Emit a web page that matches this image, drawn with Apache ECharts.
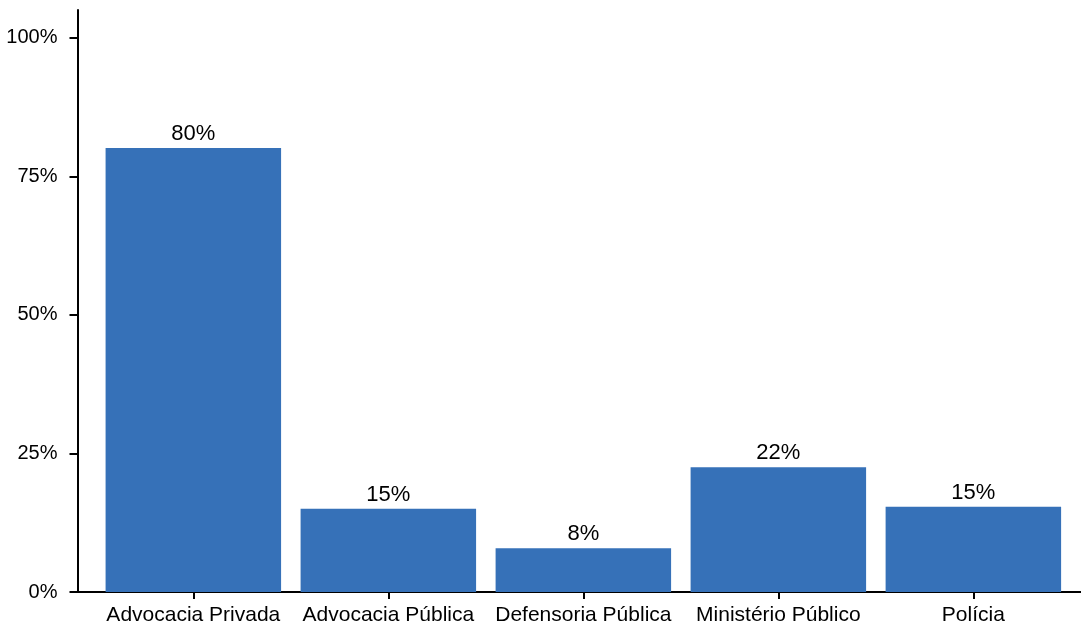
<!DOCTYPE html>
<html>
<head>
<meta charset="utf-8">
<script src="https://cdn.jsdelivr.net/npm/echarts@6/dist/echarts.min.js"></script>
<style>
html,body{margin:0;padding:0;background:#fff;}
#chart{width:1081px;height:629px;}
</style>
</head>
<body>
<div id="chart"></div>
<script>
var categories = ["Advocacia Privada", "Advocacia Pública", "Defensoria Pública", "Ministério Público", "Polícia"];
var values = [80.1, 15.0, 7.9, 22.5, 15.4];
var valueLabels = ["80%", "15%", "8%", "22%", "15%"];
var yTicks = [0, 25, 50, 75, 100];

var FONT = '"Liberation Sans", Arial, Helvetica, sans-serif';
var positions = categories.map(function (c, i) { return i + 1; });
var seriesData = values.map(function (v, i) { return [positions[i], v]; });

var chart = echarts.init(document.getElementById('chart'), null, {renderer: 'canvas'});
chart.setOption({
  animation: false,
  backgroundColor: '#ffffff',
  grid: {left: 77.5, right: 0, top: 10, bottom: 37, containLabel: false},
  xAxis: {
    type: 'value',
    min: 0.406,
    max: 5.552,
    splitLine: {show: false},
    axisLine: {show: true, onZero: false, lineStyle: {color: '#000', width: 2}},
    axisTick: {show: true, length: 7, customValues: positions, lineStyle: {color: '#000', width: 2}},
    axisLabel: {
      customValues: positions,
      margin: 13,
      color: '#000',
      fontFamily: FONT,
      fontSize: 21,
      formatter: function (v) { return categories[Math.round(v) - 1] || ''; }
    }
  },
  yAxis: {
    type: 'value',
    min: 0,
    max: 105,
    splitLine: {show: false},
    axisLine: {show: true, lineStyle: {color: '#000', width: 2}},
    axisTick: {show: true, length: 8, customValues: yTicks, lineStyle: {color: '#000', width: 2}},
    axisLabel: {
      customValues: yTicks,
      margin: 20,
      color: '#000',
      fontFamily: FONT,
      fontSize: 20,
      formatter: function (v) { return v + '%'; }
    }
  },
  series: [{
    type: 'bar',
    data: seriesData,
    barWidth: 175.5,
    itemStyle: {color: '#3671b8'},
    label: {
      show: true,
      position: 'top',
      distance: 3,
      color: '#000',
      fontFamily: FONT,
      fontSize: 22,
      formatter: function (p) { return valueLabels[p.dataIndex]; }
    }
  }]
});
</script>
</body>
</html>
